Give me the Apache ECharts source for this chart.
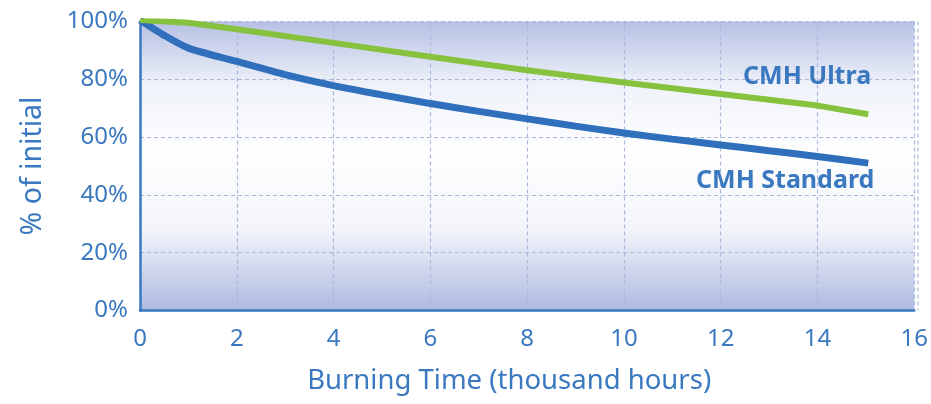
<!DOCTYPE html>
<html>
<head>
<meta charset="utf-8">
<script src="https://cdn.jsdelivr.net/npm/echarts@6/dist/echarts.min.js"></script>
<style>html,body{margin:0;padding:0;background:#fff;}#c{width:931px;height:404px;}</style>
</head>
<body>
<div id="c"></div>
<script>
const standardData = [[0,100.5],[0.5,95.2],[1,90.8],[2,86.2],[3,81.6],[4,77.8],[5,74.6],[6,71.6],[7,68.9],[8,66.3],[9,63.8],[10,61.4],[11,59.3],[12,57.3],[13,55.3],[14,53.3],[15.05,51]];
const ultraData = [[0,100.5],[1,99.6],[2,97.3],[4,92.6],[6,87.8],[8,83.1],[10,78.9],[12,74.9],[14,70.9],[15.05,67.9]];
const xTicks = [0,16,2];
const yTicks = [0,100,20];
const seriesNames = ['CMH Standard','CMH Ultra'];

const txt = '#3a78c0';
const font = '"Noto Sans", "Open Sans", sans-serif';
const chart = echarts.init(document.getElementById('c'));
chart.setOption({
  animation: false,
  grid: {left: 140, right: 13, top: 21.5, bottom: 93.5,
    show: true, borderWidth: 0,
    backgroundColor: new echarts.graphic.LinearGradient(0,0,0,1,[
      {offset:0,color:'#b6c0e3'},{offset:0.22,color:'#eff2fa'},{offset:0.45,color:'#ffffff'},
      {offset:0.72,color:'#f3f5fb'},{offset:1,color:'#adb9df'}])},
  xAxis: {type:'value', min:xTicks[0], max:xTicks[1], interval:xTicks[2],
    name:'Burning Time (thousand hours)', nameLocation:'middle', nameGap:57,
    nameTextStyle:{color:txt, fontSize:27.5, fontFamily:font, padding:[0,36,0,0]},
    axisLine:{show:true, lineStyle:{color:'#3a78c0', width:2.5}},
    axisTick:{show:false},
    axisLabel:{color:txt, fontSize:24, fontFamily:font, margin:17},
    splitLine:{show:true, lineStyle:{color:'#aab8dc', type:[4,3], width:1.2}}},
  yAxis: {type:'value', min:yTicks[0], max:yTicks[1], interval:yTicks[2],
    name:'% of initial', nameLocation:'middle', nameGap:93,
    nameTextStyle:{color:txt, fontSize:28.5, fontFamily:font},
    axisLine:{show:true, lineStyle:{color:'#3a78c0', width:2.5}},
    axisTick:{show:false},
    axisLabel:{color:txt, fontSize:24, fontFamily:font, margin:12, formatter:'{value}%'},
    splitLine:{show:true, lineStyle:{color:'#aab8dc', type:[4,3], width:1.2}}},
  series: [
    {name:seriesNames[0], type:'line', data:standardData, smooth:0.25, symbol:'none',
      lineStyle:{color:'#2f6fbb', width:7}, z:3},
    {name:seriesNames[1], type:'line', data:ultraData, smooth:false, symbol:'none',
      lineStyle:{color:'#86c23d', width:6, join:'round'}, z:4}
  ],
  graphic: [
    {type:'text', left:743, top:64, style:{text:seriesNames[1], fill:txt, font:'bold 25px '+font}, z:10},
    {type:'text', left:696, top:168, style:{text:seriesNames[0], fill:txt, font:'bold 25px '+font}, z:10},
    {type:'line', shape:{x1:918, y1:21.5, x2:918, y2:310.5}, style:{stroke:'#aab8dc', lineWidth:1.2, lineDash:[4,3]}, z:1}
  ]
});
</script>
</body>
</html>
